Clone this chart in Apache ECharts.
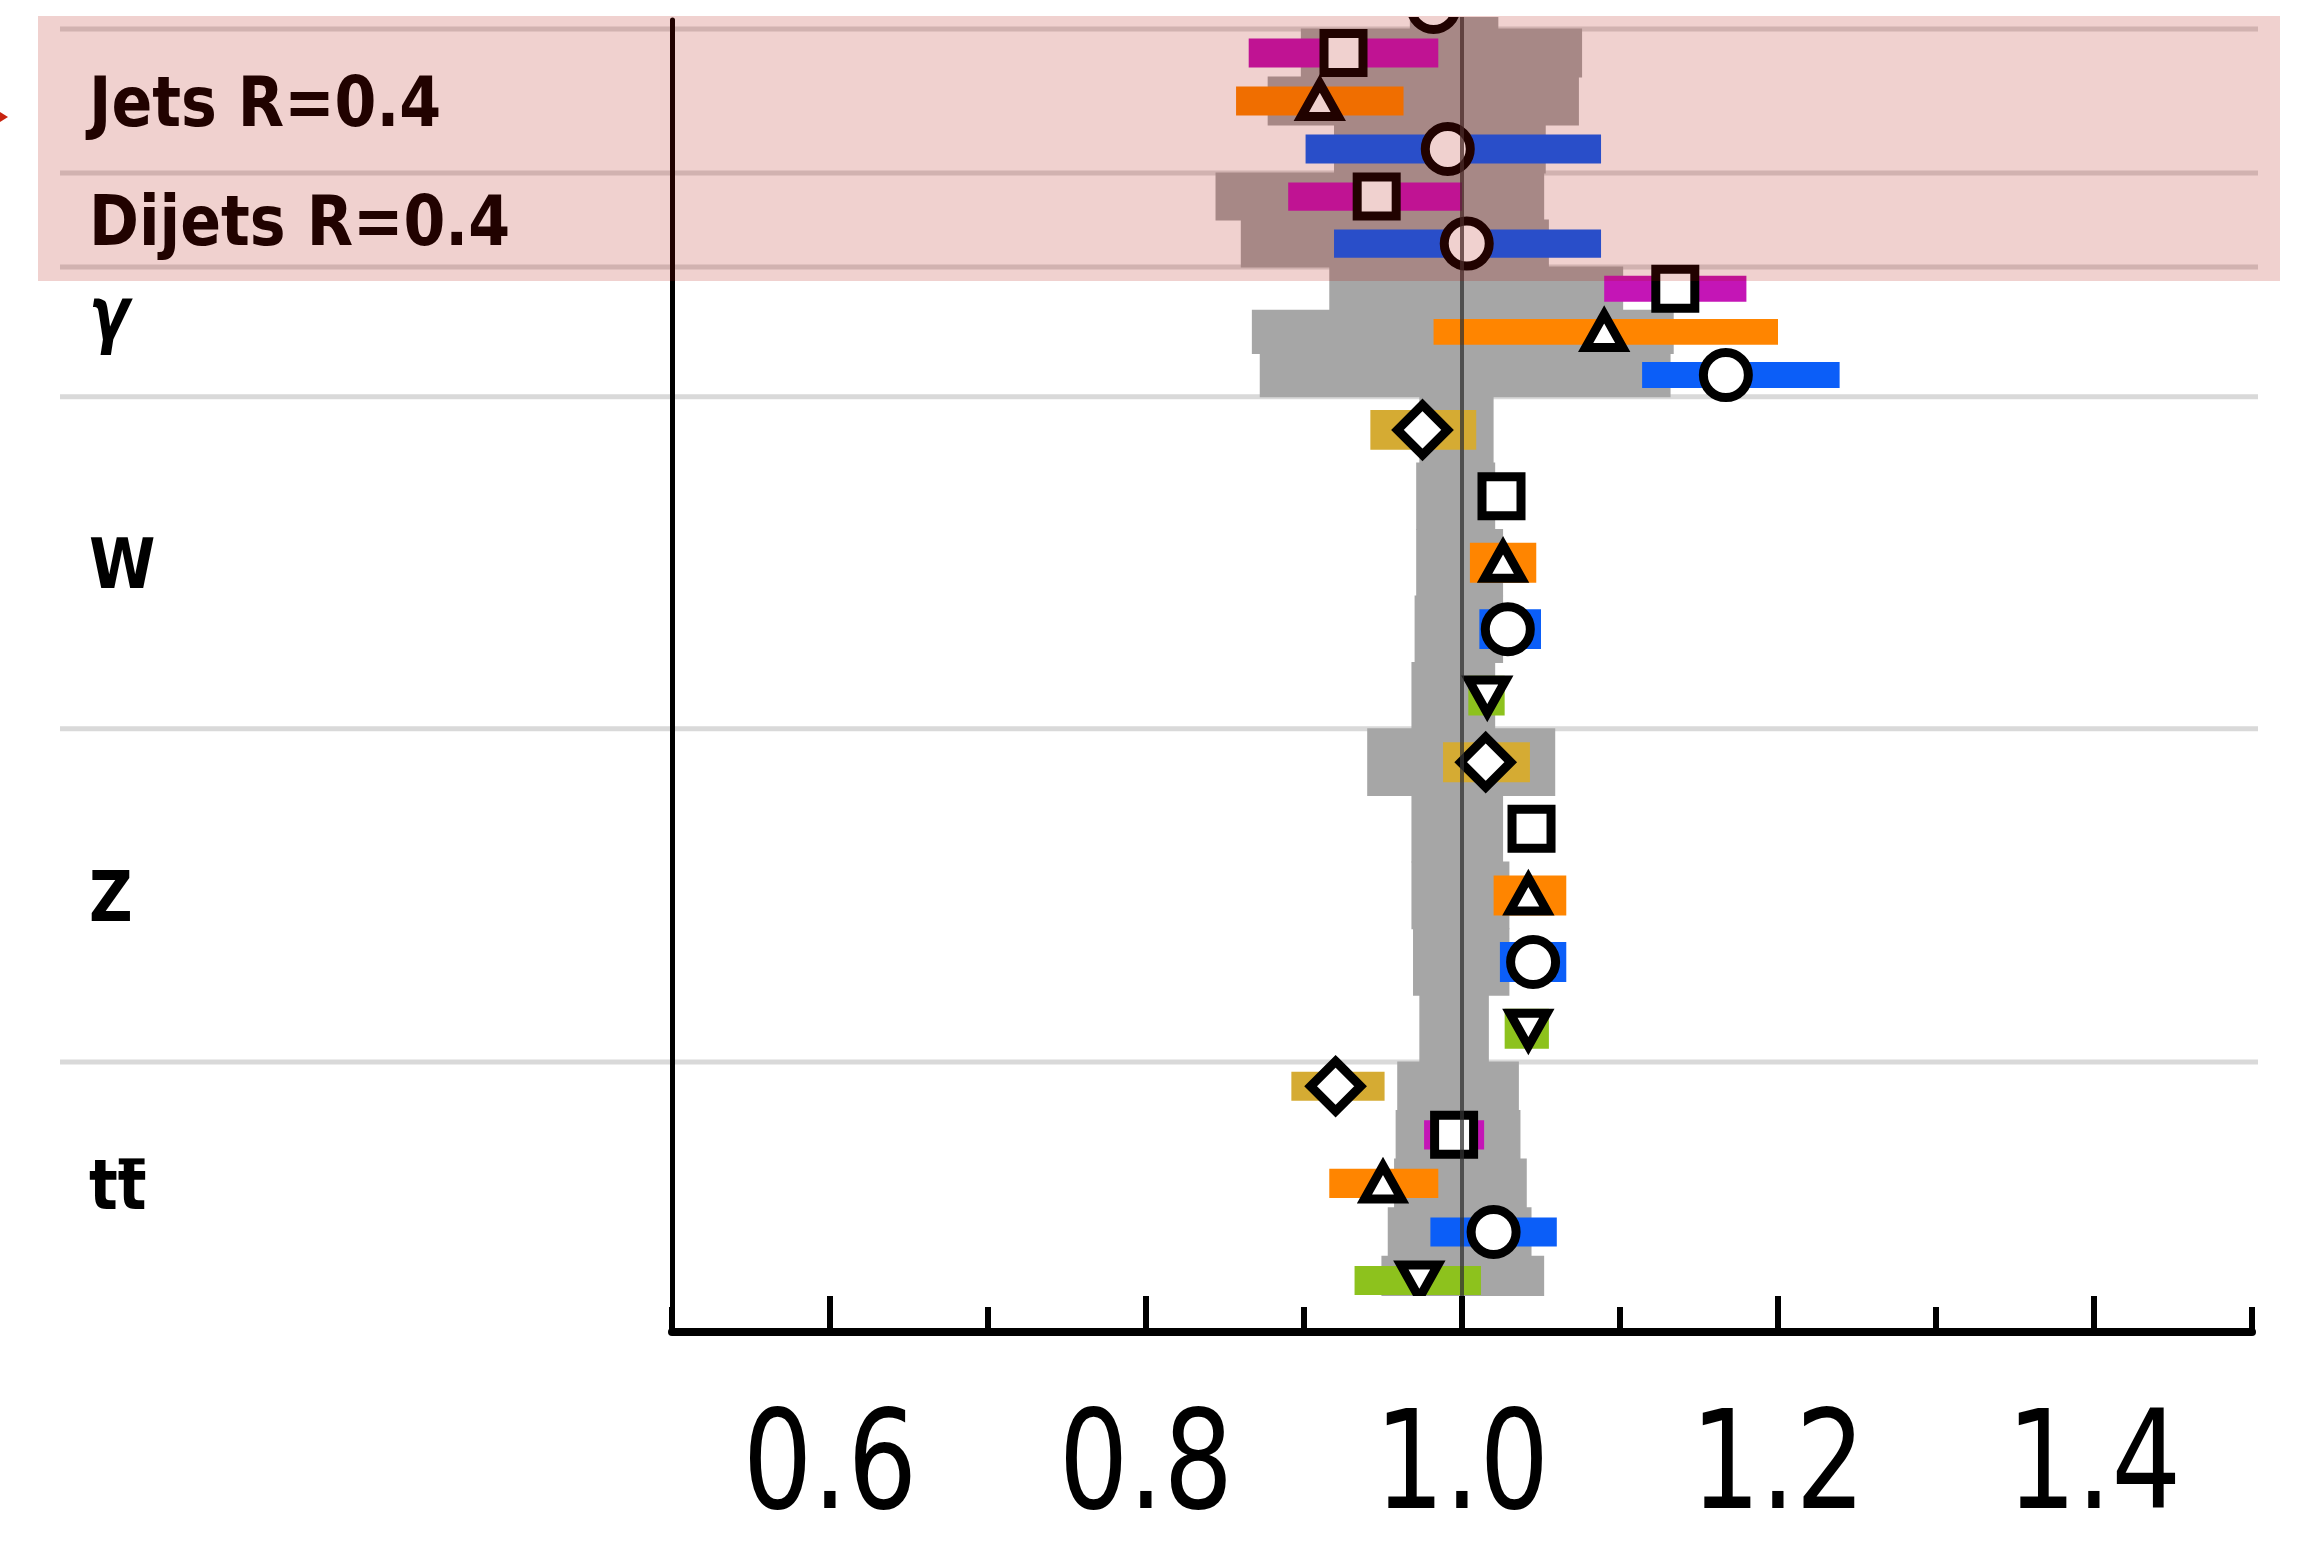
<!DOCTYPE html>
<html>
<head>
<meta charset="utf-8">
<script src="https://cdn.jsdelivr.net/npm/echarts@6/dist/echarts.min.js"></script>
<style>
  html, body { margin: 0; padding: 0; background: #ffffff; }
  #chart { width: 2304px; height: 1541px; }
</style>
</head>
<body>
<div id="chart"></div>
<script>
// ---------------------------------------------------------------------------
// Data: cross-section ratios per process group (top to bottom).
// The first group continues from above the frame, so it has no label.
// ---------------------------------------------------------------------------
const categories = ['', 'Jets R=0.4', 'Dijets R=0.4', 'γ', 'W', 'Z', 't\u0074\u0304'];

// One set of arrays per marker family (null = no entry in that group)
const diamondVal = [null, null, null, null, 0.975, 1.015, 0.920];
const diamondLo  = [null, null, null, null, 0.942, 0.988, 0.892];
const diamondHi  = [null, null, null, null, 1.009, 1.043, 0.951];

const squareVal = [null, 0.925, 0.946, 1.135, 1.025, 1.044, 0.995];
const squareLo  = [null, 0.865, 0.890, 1.090, 1.016, 1.034, 0.976];
const squareHi  = [null, 0.985, 1.000, 1.180, 1.034, 1.054, 1.014];

const triangleVal = [null, 0.910, null, 1.090, 1.026, 1.042, 0.950];
const triangleLo  = [null, 0.857, null, 0.982, 1.005, 1.020, 0.916];
const triangleHi  = [null, 0.963, null, 1.200, 1.047, 1.066, 0.985];

const circleVal = [0.982, 0.991, 1.003, 1.167, 1.029, 1.045, 1.020];
const circleLo  = [null, 0.901, 0.919, 1.114, 1.011, 1.024, 0.980];
const circleHi  = [null, 1.088, 1.088, 1.239, 1.050, 1.066, 1.060];

const invTriangleVal = [null, null, null, null, 1.016, 1.042, 0.973];
const invTriangleLo  = [null, null, null, null, 1.004, 1.027, 0.932];
const invTriangleHi  = [null, null, null, null, 1.027, 1.055, 1.012];

// Grey reference band: one step per marker row, rows in marker order
const bandLo = [
  [0.967],
  [0.898, 0.877, 0.919],
  [0.844, 0.860],
  [0.916, 0.867, 0.872],
  [0.973, 0.971, 0.971, 0.970, 0.968],
  [0.940, 0.968, 0.968, 0.969, 0.973],
  [0.959, 0.958, 0.957, 0.953, 0.949]
];
const bandHi = [
  [1.023],
  [1.076, 1.074, 1.053],
  [1.052, 1.055],
  [1.102, 1.134, 1.132],
  [1.020, 1.021, 1.026, 1.026, 1.021],
  [1.059, 1.026, 1.030, 1.030, 1.017],
  [1.036, 1.037, 1.041, 1.044, 1.052]
];

const xTicksMajor = [0.6, 0.8, 1.0, 1.2, 1.4];
const xTicksMinor = [0.5, 0.7, 0.9, 1.1, 1.3, 1.5];
const unityValue = [1.0];
const highlighted = ['Jets R=0.4', 'Dijets R=0.4'];

// ---------------------------------------------------------------------------
// Layout (row units: one unit is roughly one marker line)
// ---------------------------------------------------------------------------
const catHeight = [0.917, 3.0, 1.96, 2.7, 6.92, 6.94, 5.06];
const Y_VIEW = [-0.25, 26.396];
const X_RANGE = [0.5, 1.5];
const GRID_LEFT = 672, GRID_RIGHT = 52;
const LABEL_X = 89, LABEL_DY = 7, GREEK_DY = -19, SEP_LEFT = 60, SEP_RIGHT = 2258;
const LABEL_SIZE = 70, LABEL_SCALE = 0.86;
const TICK_LABEL_DY = 140;
const FONT = "'DejaVu Sans', sans-serif";
const MACRON = '\u0304';

const families = [
  { shape: 'diamond',     val: diamondVal,     lo: diamondLo,     hi: diamondHi,     color: '#d5ab33' },
  { shape: 'square',      val: squareVal,      lo: squareLo,      hi: squareHi,      color: '#c415b6' },
  { shape: 'triangle',    val: triangleVal,    lo: triangleLo,    hi: triangleHi,    color: '#ff8500' },
  { shape: 'circle',      val: circleVal,      lo: circleLo,      hi: circleHi,      color: '#0b5ef8' },
  { shape: 'invTriangle', val: invTriangleVal, lo: invTriangleLo, hi: invTriangleHi, color: '#8dc21d' }
];

// Category extents along the y axis
const catStart = [];
(function () {
  let acc = -catHeight[0];
  for (let i = 0; i < catHeight.length; i++) { catStart.push(acc); acc += catHeight[i]; }
})();

// Build one row per marker present in a group
const bandData = [], barData = [], markerData = [];
categories.forEach(function (name, ci) {
  const present = [];
  families.forEach(function (f, fi) { if (f.val[ci] !== null) present.push(fi); });
  const slot = catHeight[ci] / present.length;
  present.forEach(function (fi, j) {
    const top = catStart[ci] + j * slot;
    const mid = top + slot / 2;
    const f = families[fi];
    bandData.push([bandLo[ci][j], bandHi[ci][j], top, top + slot]);
    if (f.lo[ci] !== null) barData.push([f.lo[ci], f.hi[ci], mid - 0.3 * slot, mid + 0.3 * slot, fi]);
    markerData.push([f.val[ci], mid, fi]);
  });
});
const catData = categories.map(function (name, ci) { return [catStart[ci], catStart[ci] + catHeight[ci], ci]; });
const hiIdx = highlighted.map(function (n) { return categories.indexOf(n); });
const hiFirst = Math.min.apply(null, hiIdx), hiLast = Math.max.apply(null, hiIdx);
const highlightData = [[catStart[hiFirst], catStart[hiLast] + catHeight[hiLast]]];

// text measuring for the bar drawn over a final letter carrying a macron
const measureCtx = document.createElement('canvas').getContext('2d');
function textWidth(str) {
  measureCtx.font = 'bold ' + LABEL_SIZE + 'px ' + FONT;
  return measureCtx.measureText(str).width * LABEL_SCALE;
}

function markerGraphic(shape, cx, cy) {
  const style = { fill: '#ffffff', stroke: '#000000', lineWidth: 9, lineJoin: 'miter' };
  if (shape === 'circle') return { type: 'circle', shape: { cx: cx, cy: cy, r: 22.5 }, style: style };
  if (shape === 'square') return { type: 'rect', shape: { x: cx - 19.5, y: cy - 19.5, width: 39, height: 39 }, style: style };
  if (shape === 'diamond') {
    const d = 25;
    return { type: 'polygon', shape: { points: [[cx, cy - d], [cx + d, cy], [cx, cy + d], [cx - d, cy]] }, style: style };
  }
  const w = 37, h = 33;
  if (shape === 'triangle') {
    return { type: 'polygon', shape: { points: [[cx, cy - h / 2 - 1], [cx + w / 2, cy + h / 2 - 1], [cx - w / 2, cy + h / 2 - 1]] }, style: style };
  }
  return { type: 'polygon', shape: { points: [[cx, cy + h / 2 + 1], [cx + w / 2, cy - h / 2 + 1], [cx - w / 2, cy - h / 2 + 1]] }, style: style };
}

const chart = echarts.init(document.getElementById('chart'), null, { renderer: 'canvas' });

chart.setOption({
  animation: false,
  backgroundColor: '#ffffff',
  grid: [
    { left: GRID_LEFT, right: GRID_RIGHT, top: 17, bottom: 245 },   // plot content
    { left: GRID_LEFT, right: GRID_RIGHT, top: 20, bottom: 209 }    // axis frame
  ],
  xAxis: [
    { gridIndex: 0, type: 'value', min: X_RANGE[0], max: X_RANGE[1], show: false },
    {
      gridIndex: 1, type: 'value', min: X_RANGE[0], max: X_RANGE[1], position: 'bottom', z: 6,
      axisLine: { show: true, onZero: false, lineStyle: { color: '#000000', width: 8 } },
      axisTick: { show: true, inside: true, length: 36, customValues: xTicksMajor, lineStyle: { color: '#000000', width: 6 } },
      axisLabel: { show: false },
      splitLine: { show: false }
    },
    {
      gridIndex: 1, type: 'value', min: X_RANGE[0], max: X_RANGE[1], position: 'bottom', z: 6,
      axisLine: { show: false },
      axisTick: { show: true, inside: true, length: 25, customValues: xTicksMinor, lineStyle: { color: '#000000', width: 6 } },
      axisLabel: { show: false },
      splitLine: { show: false }
    }
  ],
  yAxis: [
    { gridIndex: 0, type: 'value', min: Y_VIEW[0], max: Y_VIEW[1], inverse: true, show: false },
    {
      gridIndex: 1, type: 'value', min: 0, max: 1, position: 'left', z: 6,
      axisLine: { show: true, onZero: false, lineStyle: { color: '#000000', width: 5 } },
      axisTick: { show: false }, axisLabel: { show: false }, splitLine: { show: false }
    }
  ],
  series: [
    {
      // group separators and group names
      type: 'custom', name: 'groups', xAxisIndex: 0, yAxisIndex: 0, z: 1, clip: false, silent: true,
      data: catData,
      renderItem: function (params, api) {
        const ci = api.value(2);
        const name = categories[ci];
        const top = api.coord([X_RANGE[0], api.value(0)])[1];
        const bot = api.coord([X_RANGE[0], api.value(1)])[1];
        const children = [];
        if (name !== '') {
          children.push({ type: 'line', shape: { x1: SEP_LEFT, y1: top, x2: SEP_RIGHT, y2: top },
                          style: { stroke: '#d9d9d9', lineWidth: 5 } });
          const isGreek = name === 'γ';
          const hasBar = name.endsWith(MACRON);
          const text = hasBar ? name.slice(0, -1) : name;
          const ty = (top + bot) / 2 + LABEL_DY + (isGreek ? GREEK_DY : 0);
          children.push({ type: 'text', x: LABEL_X, y: ty,
            scaleX: isGreek ? 0.8 : LABEL_SCALE,
            style: { text: text, fill: '#000000', fontSize: isGreek ? 74 : LABEL_SIZE,
                     fontWeight: 'bold', fontStyle: isGreek ? 'italic' : 'normal',
                     fontFamily: FONT, align: 'left', verticalAlign: 'middle' } });
          if (hasBar) {
            const x0 = LABEL_X + textWidth(text.slice(0, -1));
            const x1 = LABEL_X + textWidth(text);
            children.push({ type: 'rect', shape: { x: x0 + 1, y: ty - 32, width: x1 - x0 - 3, height: 6 },
                            style: { fill: '#000000' } });
          }
        }
        return { type: 'group', children: children };
      }
    },
    {
      type: 'custom', name: 'band', xAxisIndex: 0, yAxisIndex: 0, z: 2, clip: true, silent: true,
      data: bandData,
      renderItem: function (params, api) {
        const p1 = api.coord([api.value(0), api.value(2)]);
        const p2 = api.coord([api.value(1), api.value(3)]);
        return { type: 'rect', shape: { x: p1[0], y: p1[1] - 0.5, width: p2[0] - p1[0], height: p2[1] - p1[1] + 1 },
                 style: { fill: '#a6a6a6' } };
      }
    },
    {
      type: 'custom', name: 'errors', xAxisIndex: 0, yAxisIndex: 0, z: 3, clip: true, silent: true,
      data: barData,
      renderItem: function (params, api) {
        const p1 = api.coord([api.value(0), api.value(2)]);
        const p2 = api.coord([api.value(1), api.value(3)]);
        return { type: 'rect', shape: { x: p1[0], y: p1[1], width: p2[0] - p1[0], height: p2[1] - p1[1] },
                 style: { fill: families[api.value(4)].color } };
      }
    },
    {
      type: 'custom', name: 'markers', xAxisIndex: 0, yAxisIndex: 0, z: 4, clip: true, silent: true,
      data: markerData,
      renderItem: function (params, api) {
        const p = api.coord([api.value(0), api.value(1)]);
        return markerGraphic(families[api.value(2)].shape, p[0], p[1]);
      }
    },
    {
      type: 'custom', name: 'unity', xAxisIndex: 0, yAxisIndex: 0, z: 5, clip: true, silent: true,
      data: unityValue.map(function (v) { return [v]; }),
      renderItem: function (params, api) {
        const x = api.coord([api.value(0), 0])[0];
        const cs = params.coordSys;
        return { type: 'line', shape: { x1: x, y1: cs.y, x2: x, y2: cs.y + cs.height },
                 style: { stroke: 'rgba(50,50,50,0.75)', lineWidth: 4 } };
      }
    },
    {
      // tick labels under the frame axis (condensed)
      type: 'custom', name: 'tickLabels', xAxisIndex: 1, yAxisIndex: 1, z: 6, clip: false, silent: true,
      data: xTicksMajor.map(function (v) { return [v]; }),
      renderItem: function (params, api) {
        const p = api.coord([api.value(0), 0]);
        return { type: 'text', x: p[0], y: p[1] + TICK_LABEL_DY, scaleX: 0.8,
                 style: { text: api.value(0).toFixed(1), fill: '#000000', fontSize: 137,
                          fontFamily: FONT, align: 'center', verticalAlign: 'middle' } };
      }
    },
    {
      // translucent highlight over the jet groups
      type: 'custom', name: 'highlight', xAxisIndex: 0, yAxisIndex: 0, z: 20, clip: false, silent: true,
      data: highlightData,
      renderItem: function (params, api) {
        const top = api.coord([X_RANGE[0], api.value(0)])[1] - 13;
        const bot = api.coord([X_RANGE[0], api.value(1)])[1] + 14;
        return { type: 'rect', shape: { x: 38, y: top, width: 2280 - 38, height: bot - top },
                 style: { fill: 'rgba(177,9,0,0.19)' } };
      }
    }
  ],
  graphic: [
    { type: 'polygon', z: 30, shape: { points: [[-10, 106], [8, 117], [-10, 128]] }, style: { fill: '#c8230f' } }
  ]
});
</script>
</body>
</html>
